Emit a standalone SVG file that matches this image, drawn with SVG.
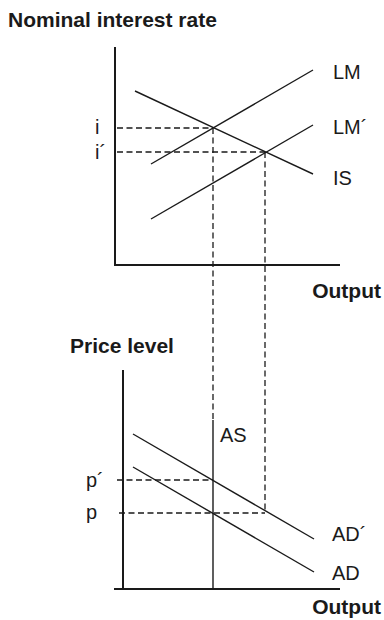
<svg xmlns="http://www.w3.org/2000/svg" width="384" height="620" viewBox="0 0 384 620">
<style>
.bg{fill:#ffffff}
.axis{stroke:#1a1a1a;stroke-width:2;fill:none}
.curve{stroke:#1a1a1a;stroke-width:1.4;fill:none}
.dash{stroke:#1a1a1a;stroke-width:1.3;stroke-dasharray:6 3.5;fill:none}
.lbl{font-family:"Liberation Sans",Arial,sans-serif;font-size:20px;fill:#1a1a1a}
.ttl{font-family:"Liberation Sans",Arial,sans-serif;font-size:21px;font-weight:bold;fill:#1a1a1a}
</style>
<rect class="bg" x="0" y="0" width="384" height="620"/>
<g id="connectors">
<line class="dash" x1="117" y1="128" x2="213" y2="128"/>
<line class="dash" x1="117" y1="152" x2="265" y2="152"/>
<line class="dash" x1="213" y1="128" x2="213" y2="420"/>
<line class="dash" x1="265" y1="152" x2="265" y2="513"/>
<line class="dash" x1="117" y1="480" x2="213" y2="480"/>
<line class="dash" x1="119" y1="513" x2="265" y2="513"/>
</g>
<g id="top-axes">
<line class="axis" x1="115" y1="47" x2="115" y2="266"/>
<line class="axis" x1="114" y1="265" x2="340" y2="265"/>
<text class="ttl" x="8" y="27">Nominal interest rate</text>
<text class="ttl" x="381" y="298" text-anchor="end">Output</text>
<text class="lbl" x="95" y="134">i</text>
<text class="lbl" x="95" y="159">i´</text>
</g>
<g id="LM">
<line class="curve" x1="151" y1="164" x2="313" y2="70"/>
<text class="lbl" x="333" y="79">LM</text>
</g>
<g id="LM-prime">
<line class="curve" x1="151" y1="219" x2="313" y2="125"/>
<text class="lbl" x="333" y="134">LM´</text>
</g>
<g id="IS">
<line class="curve" x1="135" y1="91" x2="313" y2="174"/>
<text class="lbl" x="333" y="185">IS</text>
</g>
<g id="bottom-axes">
<line class="axis" x1="123" y1="370" x2="123" y2="590"/>
<line class="axis" x1="114" y1="589" x2="340" y2="589"/>
<text class="ttl" x="70" y="353">Price level</text>
<text class="ttl" x="381" y="614" text-anchor="end">Output</text>
<text class="lbl" x="86" y="487">p´</text>
<text class="lbl" x="86" y="519">p</text>
</g>
<g id="AS">
<line class="curve" x1="213" y1="420" x2="213" y2="589"/>
<text class="lbl" x="220" y="442">AS</text>
</g>
<g id="AD-prime">
<line class="curve" x1="133" y1="434" x2="314" y2="539"/>
<text class="lbl" x="332" y="541">AD´</text>
</g>
<g id="AD">
<line class="curve" x1="133" y1="467" x2="314" y2="572"/>
<text class="lbl" x="332" y="580">AD</text>
</g>
</svg>
